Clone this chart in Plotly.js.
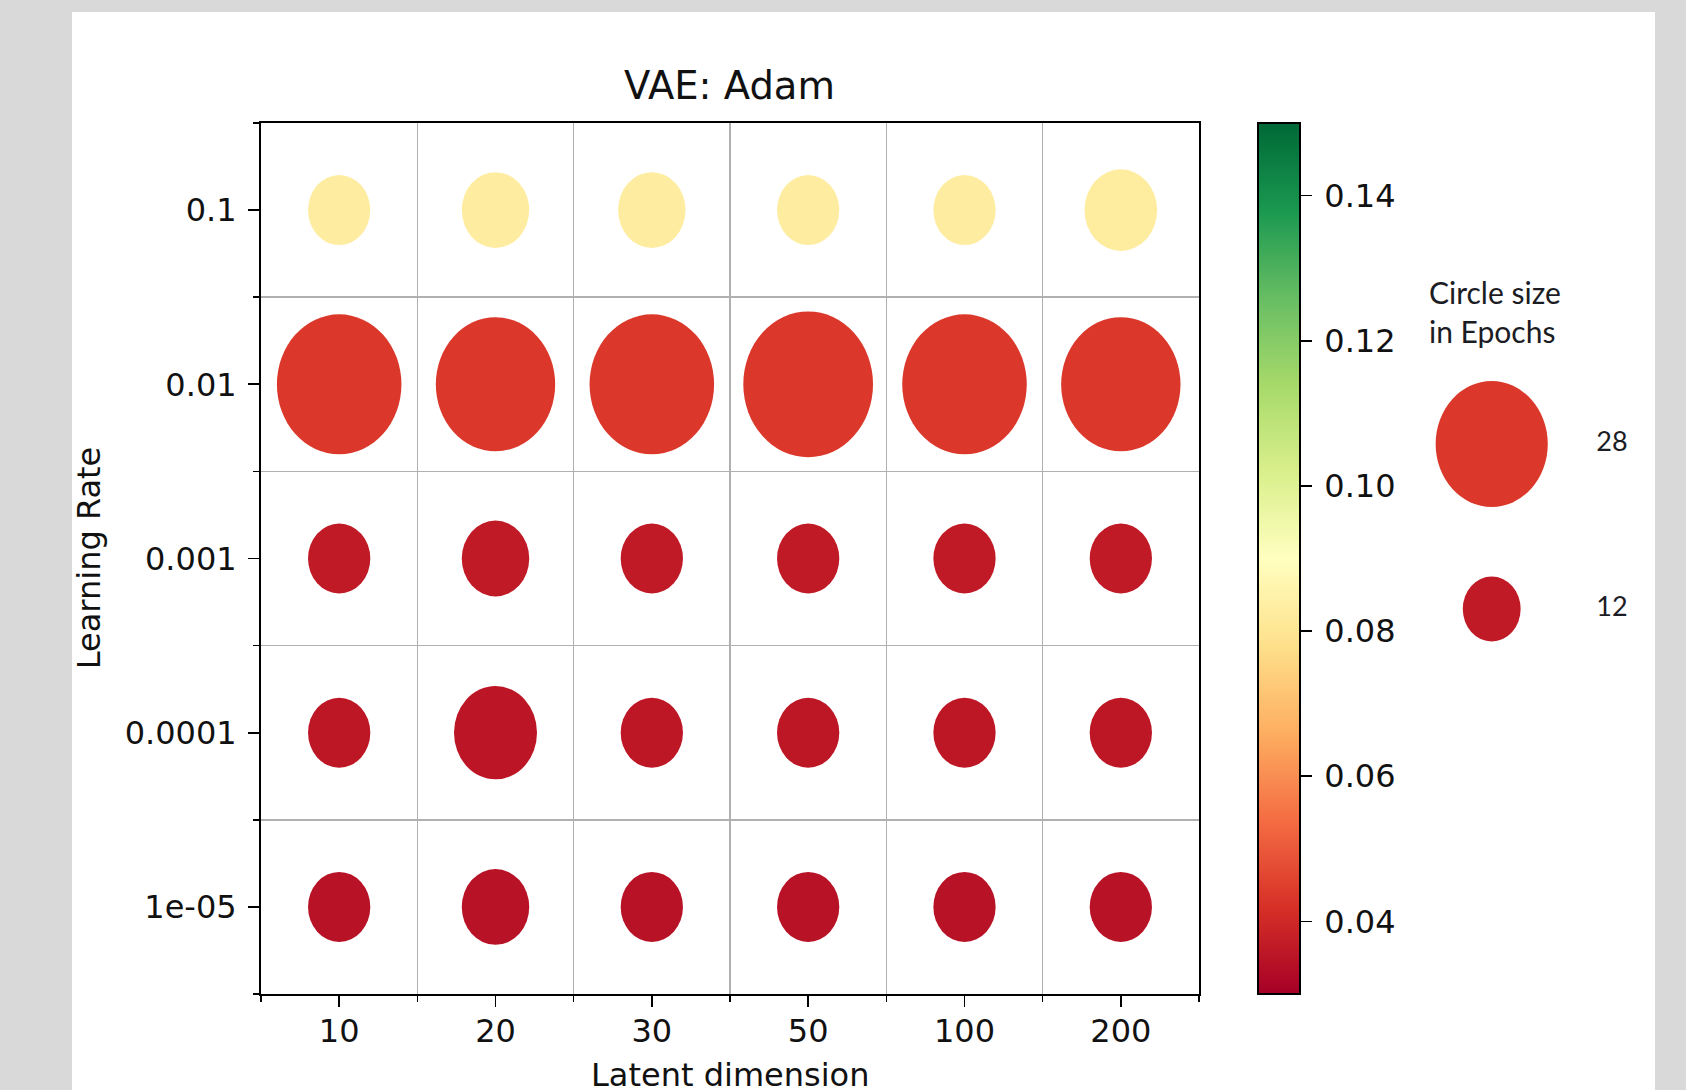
<!DOCTYPE html>
<html><head><meta charset="utf-8">
<script src="https://cdn.plot.ly/plotly-3.0.1.min.js"></script>
<style>
html,body{margin:0;padding:0;background:#d9d9d9;width:1686px;height:1090px;overflow:hidden;}
#chart{position:absolute;left:0;top:0;width:1686px;height:1090px;}
</style></head><body><div id="chart"></div>
<script>
// ---- data ----
const latentDims = ['10', '20', '30', '50', '100', '200'];
const learningRates = ['0.1', '0.01', '0.001', '0.0001', '1e-05'];

// epochs (circle size), one row per learning rate
const epochs_lr_0_1 = [12, 13, 13, 12, 12, 14];
const epochs_lr_0_01 = [24, 23, 24, 25, 24, 23];
const epochs_lr_0_001 = [12, 13, 12, 12, 12, 12];
const epochs_lr_0_0001 = [12, 16, 12, 12, 12, 12];
const epochs_lr_1e_05 = [12, 13, 12, 12, 12, 12];

// loss (circle colour), one row per learning rate
const loss_lr_0_1 = [0.083, 0.083, 0.083, 0.083, 0.083, 0.0825];
const loss_lr_0_01 = [0.0435, 0.0435, 0.0435, 0.0435, 0.0435, 0.0435];
const loss_lr_0_001 = [0.0366, 0.0366, 0.0366, 0.0366, 0.0366, 0.0366];
const loss_lr_0_0001 = [0.0358, 0.0355, 0.0358, 0.0358, 0.0358, 0.0358];
const loss_lr_1e_05 = [0.0346, 0.0346, 0.0346, 0.0346, 0.0346, 0.0346];

// size legend
const legendEpochs = [28, 12];
const legendLoss = [0.0435, 0.0366];

// colour bar
const cbTicks = [0.04, 0.06, 0.08, 0.10, 0.12, 0.14];
const cbMin = 0.03, cbMax = 0.15;

// ---- build ----
const epochRows = [epochs_lr_0_1, epochs_lr_0_01, epochs_lr_0_001, epochs_lr_0_0001, epochs_lr_1e_05];
const lossRows = [loss_lr_0_1, loss_lr_0_01, loss_lr_0_001, loss_lr_0_0001, loss_lr_1e_05];

const RdYlGn = [
  [0.0, '#a50026'], [0.1, '#d73027'], [0.2, '#f46d43'], [0.3, '#fdae61'],
  [0.4, '#fee08b'], [0.5, '#ffffbf'], [0.6, '#d9ef8b'], [0.7, '#a6d96a'],
  [0.8, '#66bd63'], [0.9, '#1a9850'], [1.0, '#006837']
];

const xs = [], ys = [], sz = [], cl = [];
learningRates.forEach((lr, r) => {
  latentDims.forEach((d, c) => {
    xs.push(latentDims.indexOf(d));
    ys.push(learningRates.indexOf(lr));
    sz.push(epochRows[r][c]);
    cl.push(lossRows[r][c]);
  });
});

const FONT = 'DejaVu Sans, sans-serif';
const TXT = '#111111';
const X_DOMAIN_END = 0.67288;

const main = {
  type: 'scatter', mode: 'markers', x: xs, y: ys, xaxis: 'x', yaxis: 'y',
  cliponaxis: false, showlegend: false, hoverinfo: 'none',
  marker: {
    symbol: 'circle', size: sz, sizemode: 'diameter', sizeref: 1 / 5.83,
    color: cl, colorscale: RdYlGn, cmin: cbMin, cmax: cbMax,
    line: {width: 0}, opacity: 1,
    showscale: true,
    colorbar: {
      thickness: 42, thicknessmode: 'pixels', len: 1, lenmode: 'fraction',
      x: 0.7155, xanchor: 'left', xref: 'paper', y: 0.5, yanchor: 'middle', yref: 'paper',
      xpad: 0, ypad: 0, outlinewidth: 2, outlinecolor: '#000',
      tickmode: 'array', tickvals: cbTicks, ticktext: cbTicks.map(v => '\u2009' + v.toFixed(2)),
      ticks: 'outside', ticklen: 11, tickwidth: 1.8, tickcolor: '#000',
      tickfont: {family: FONT, size: 32, color: TXT}
    }
  }
};

const legendMarks = {
  type: 'scatter', mode: 'markers', x: legendEpochs.map(() => 0), y: legendEpochs.map(String),
  xaxis: 'x2', yaxis: 'y2', cliponaxis: false, showlegend: false, hoverinfo: 'none',
  marker: {
    symbol: 'circle', size: legendEpochs, sizemode: 'diameter', sizeref: 28 / 126, sizemin: 32.5,
    color: legendLoss, colorscale: RdYlGn, cmin: cbMin, cmax: cbMax, showscale: false,
    line: {width: 0}, opacity: 1
  }
};

const legendText = {
  type: 'scatter', mode: 'text', x: legendEpochs.map(() => 1), y: legendEpochs.map(String),
  text: legendEpochs.map(String), textposition: 'middle center',
  xaxis: 'x2', yaxis: 'y2', cliponaxis: false, showlegend: false, hoverinfo: 'none',
  textfont: {family: 'Lato, sans-serif', size: 27, color: '#1c1c24'}
};

const axisCommon = {
  showline: true, mirror: true, linecolor: '#000', linewidth: 2,
  ticks: 'outside', ticklen: 11, tickwidth: 1.8, tickcolor: '#000',
  showgrid: false, zeroline: false, tickmode: 'array',
  tickfont: {family: FONT, size: 32, color: TXT},
  minor: {tickmode: 'linear', tick0: -0.5, dtick: 1, ticks: 'outside', ticklen: 6,
          tickwidth: 1.5, tickcolor: '#000', showgrid: true, gridcolor: '#b0b0b0', gridwidth: 1.6}
};

const layout = {
  width: 1686, height: 1090,
  margin: {l: 261, r: 31, t: 123, b: 96, pad: 0},
  paper_bgcolor: '#d9d9d9', plot_bgcolor: '#ffffff',
  font: {family: FONT, color: TXT},
  title: {text: 'VAE: Adam', font: {family: FONT, size: 38.5, color: TXT},
          x: 0.43268, xref: 'container', xanchor: 'center', y: 0.9211, yref: 'container', yanchor: 'middle'},
  shapes: [{
    type: 'rect', layer: 'below', xref: 'paper', yref: 'paper',
    x0: -0.13558, x1: 1.0, y0: -0.11022, y1: 1.12744,
    fillcolor: '#ffffff', line: {width: 0}
  }],
  xaxis: Object.assign({}, axisCommon, {
    domain: [0, X_DOMAIN_END], range: [-0.5, latentDims.length - 0.5],
    tickvals: latentDims.map((d, i) => i), ticktext: latentDims,
    ticklabelstandoff: -3
  }),
  yaxis: Object.assign({}, axisCommon, {
    range: [learningRates.length - 0.5, -0.5],
    tickvals: learningRates.map((d, i) => i), ticktext: learningRates,
    ticklabelstandoff: 5
  }),
  xaxis2: {domain: [0.79656, 0.98644], range: [-1, 1.2], anchor: 'y2', visible: false, fixedrange: true},
  yaxis2: {domain: [0.35, 0.75], range: [-0.4858, 1.6258], anchor: 'x2', type: 'category',
           categoryorder: 'array', categoryarray: legendEpochs.map(String).reverse(), visible: false},
  annotations: [
    {
      text: 'Latent dimension', xref: 'paper', yref: 'paper', x: X_DOMAIN_END / 2, y: -0.0935,
      xanchor: 'center', yanchor: 'middle', showarrow: false,
      font: {family: FONT, size: 32, color: TXT}
    },
    {
      text: 'Learning Rate', xref: 'paper', yref: 'paper', x: -0.1236, y: 0.5, textangle: -90,
      xanchor: 'center', yanchor: 'middle', showarrow: false,
      font: {family: FONT, size: 32, color: TXT}
    },
    {
      text: 'Circle size<br>in Epochs', xref: 'paper', yref: 'paper', x: 0.8363, y: 0.7836,
      xanchor: 'left', yanchor: 'middle', align: 'left', showarrow: false,
      font: {family: 'Lato, sans-serif', size: 30, color: '#1c1c24'}
    }
  ]
};

Plotly.newPlot('chart', [main, legendMarks, legendText], layout, {staticPlot: true}).then(gd => {
  gd.querySelectorAll('.scatterlayer .trace path.point').forEach(p => {
    const t = p.getAttribute('transform') || '';
    p.setAttribute('transform', t + ' scale(0.89,1)');
  });
});
</script></body></html>
